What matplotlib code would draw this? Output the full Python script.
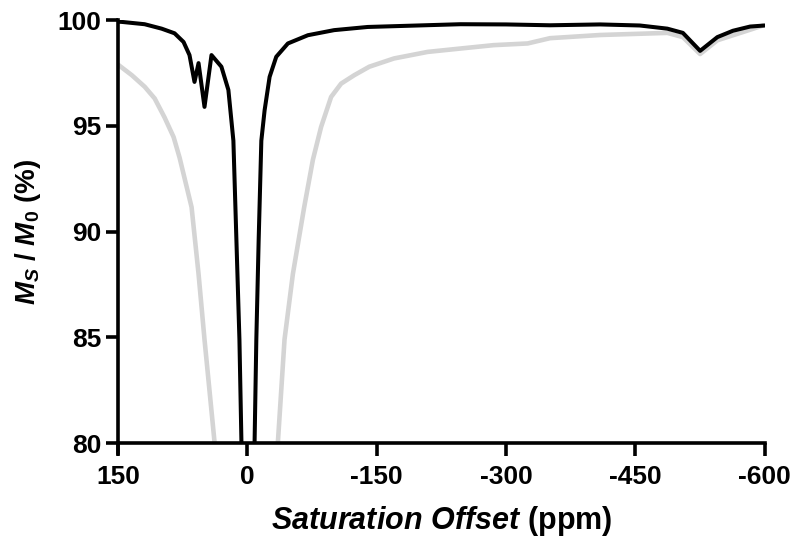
import numpy as np
import matplotlib
matplotlib.use("Agg")
import matplotlib.pyplot as plt

# Z-spectrum data (offset in ppm, Ms/M0 in %)
black_ppm = [150, 145.7, 119.1, 99.4, 84.4, 74.0, 67.1, 61.3, 56.6, 49.7,
             41.6, 30.1, 22.0, 16.2, 12.7, 9.2, 6.9, -1, -8.4, -10.4, -13.1,
             -16.2, -20, -25.8, -33.5, -47, -70.2, -100.6, -139.5, -247,
             -300, -351, -409, -455, -487, -505, -525, -545, -563, -583, -600]
black_val = [99.93, 99.92, 99.81, 99.6, 99.38, 98.97, 98.35, 97.08, 97.97,
             95.9, 98.35, 97.8, 96.7, 94.3, 89.6, 84.9, 80.1, 50.0, 80.1,
             84.9, 89.6, 94.3, 95.74, 97.32, 98.27, 98.9, 99.29, 99.53,
             99.68, 99.81, 99.8, 99.76, 99.8, 99.75, 99.6, 99.4, 98.55,
             99.2, 99.5, 99.7, 99.75]

gray_ppm = [150, 134, 119, 107.5, 96, 85.5, 78.6, 64.7, 56.6, 49.7, 38.2, 0,
            -35.5, -43.1, -52.8, -65.9, -76, -85.5, -97.1, -108.7, -124,
            -141.4, -170, -209, -247, -285.5, -325, -351, -409, -487, -505,
            -525, -545, -583, -598]
gray_val = [97.9, 97.4, 96.85, 96.3, 95.4, 94.47, 93.5, 91.16, 88.0, 84.9,
            80.1, 50.0, 80.1, 84.9, 88.0, 91.16, 93.4, 94.95, 96.37, 97.0,
            97.4, 97.8, 98.19, 98.5, 98.66, 98.82, 98.9, 99.15, 99.3, 99.4,
            99.2, 98.4, 99.05, 99.55, 99.75]

x_ticks = [150, 0, -150, -300, -450, -600]
y_ticks = [80, 85, 90, 95, 100]

plt.rcParams["font.family"] = "Liberation Sans"
plt.rcParams["font.weight"] = "bold"
plt.rcParams["axes.unicode_minus"] = False
plt.rcParams["mathtext.fontset"] = "custom"
plt.rcParams["mathtext.it"] = "Liberation Sans:italic:bold"
plt.rcParams["mathtext.rm"] = "Liberation Sans:bold"
plt.rcParams["mathtext.bf"] = "Liberation Sans:bold"

fig = plt.figure(figsize=(8, 5.46), dpi=100)
ax = fig.add_axes([0.1475, 0.1886, 0.8085, 0.7744])

ax.plot(gray_ppm, gray_val, color="#d4d4d4", lw=3.3, solid_joinstyle="round",
        solid_capstyle="round")
ax.plot(black_ppm, black_val, color="black", lw=2.9, solid_joinstyle="round",
        solid_capstyle="round")

ax.set_xlim(150, -600)
ax.set_ylim(80, 100)
ax.set_xticks(x_ticks)
ax.set_yticks(y_ticks)
ax.tick_params(direction="out", length=9, width=2.6, labelsize=19)
ax.tick_params(axis="x", pad=7)
ax.tick_params(axis="y", pad=3)
for lbl in ax.get_xticklabels() + ax.get_yticklabels():
    lbl.set_fontweight("bold")

for side in ["top", "right"]:
    ax.spines[side].set_visible(False)
for side in ["left", "bottom"]:
    ax.spines[side].set_linewidth(2.6)
ax.spines["left"].set_bounds(79.53, 100)

ax.set_xlabel(r"$Saturation\ Offset$ (ppm)", fontsize=22, fontweight="bold")
ax.set_ylabel(r"$M_S$ / $M_0$ (%)", fontsize=20, fontweight="bold")
ax.xaxis.set_label_coords(0.5, -0.145)
ax.yaxis.set_label_coords(-0.116, 0.5)

fig.savefig("out.png", dpi=100)
